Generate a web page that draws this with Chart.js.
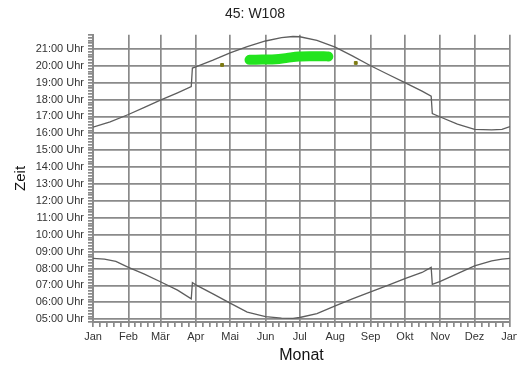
<!DOCTYPE html>
<html>
<head>
<meta charset="utf-8">
<script src="https://cdn.jsdelivr.net/npm/chart.js@4"></script>
<style>
  body { margin: 0; background: #fff; }
  #wrap { width: 517px; height: 365px; }
</style>
</head>
<body>
<div id="wrap"><canvas id="sunChart" width="517" height="365"></canvas></div>
<script>
// month labels and the day of year each month starts on
const monthNames = ['Jan', 'Feb', 'Mär', 'Apr', 'Mai', 'Jun', 'Jul', 'Aug', 'Sep', 'Okt', 'Nov', 'Dez', 'Jan'];
const monthStarts = [0, 31, 59, 90, 120, 151, 181, 212, 243, 273, 304, 334, 365];

// sunset (upper line)
const sunsetDays  = [0, 15, 31, 45, 59, 74, 86, 87, 90, 105, 120, 135, 151, 165, 175, 181, 196, 212, 227, 243, 258, 273, 288, 296, 297, 304, 319, 334, 349, 358, 365];
const sunsetTimes = ['16:22', '16:41', '17:07', '17:32', '17:58', '18:24', '18:46', '19:52', '19:56', '20:20', '20:46', '21:08', '21:28', '21:40', '21:44', '21:43', '21:30', '21:06', '20:35', '20:00', '19:30', '19:00', '18:30', '18:12', '17:10', '16:58', '16:33', '16:14', '16:12', '16:14', '16:24'];

// sunrise (lower line)
const sunriseDays  = [0, 10, 20, 31, 45, 59, 74, 86, 87, 90, 105, 120, 135, 151, 165, 175, 181, 196, 212, 227, 243, 258, 273, 288, 296, 297, 304, 319, 334, 349, 358, 365];
const sunriseTimes = ['08:36', '08:33', '08:25', '08:04', '07:40', '07:13', '06:43', '06:12', '07:10', '07:02', '06:30', '05:57', '05:25', '05:09', '05:04', '05:03', '05:06', '05:20', '05:47', '06:12', '06:37', '07:00', '07:24', '07:46', '08:04', '07:04', '07:14', '07:42', '08:09', '08:27', '08:33', '08:36'];

// green band
const bandDays  = [137, 148, 160, 170, 180, 192, 202, 206];
const bandTimes = ['20:21', '20:22', '20:23', '20:28', '20:33', '20:34', '20:34', '20:33'];

// single olive marks
const dotDays  = [113, 230];
const dotTimes = ['20:03', '20:10'];

const yMin = 290;   // 04:50
const yMax = 1310;  // 21:50

function toMin(s) {
    const p = s.split(':');
    return parseInt(p[0]) * 60 + parseInt(p[1]);
}
function pts(days, times) {
    return days.map((d, i) => ({ x: d, y: toMin(times[i]) }));
}

const font = 'Arial, "Liberation Sans", sans-serif';
const gridGrey = '#8a8a8a';

var ctx = document.getElementById('sunChart').getContext('2d');
var chart = new Chart(ctx, {
    type: 'line',
    data: {
        datasets: [{
            data: pts(bandDays, bandTimes),
            borderColor: '#22e41e',
            borderWidth: 10,
            borderCapStyle: 'round',
            borderJoinStyle: 'round',
            pointRadius: 0,
            tension: 0.3
        }, {
            data: pts(dotDays, dotTimes),
            showLine: false,
            pointStyle: 'rect',
            pointRadius: 2,
            pointBackgroundColor: '#7d7a12',
            pointBorderColor: '#7d7a12'
        }, {
            data: pts(sunsetDays, sunsetTimes),
            borderColor: '#5e5e5e',
            borderWidth: 1.3,
            pointRadius: 0,
            tension: 0
        }, {
            data: pts(sunriseDays, sunriseTimes),
            borderColor: '#5e5e5e',
            borderWidth: 1.3,
            pointRadius: 0,
            tension: 0
        }]
    },
    options: {
        responsive: false,
        animation: false,
        layout: { padding: { left: 0, right: 7, top: 0, bottom: 0 } },
        plugins: {
            legend: { display: false },
            tooltip: { enabled: false },
            title: {
                display: true,
                text: '45: W108',
                color: '#222',
                font: { family: font, size: 14, weight: 'normal' },
                padding: { top: 6, bottom: 12 }
            }
        },
        scales: {
            x: {
                type: 'linear',
                min: 0,
                max: 365,
                afterBuildTicks: function (scale) {
                    const t = [];
                    for (let m = 0; m < 12; m++) {
                        const a = monthStarts[m], b = monthStarts[m + 1];
                        t.push({ value: a, major: true });
                        for (let k = 1; k < 5; k++) t.push({ value: a + (b - a) * k / 5 });
                    }
                    t.push({ value: 365, major: true });
                    scale.ticks = t;
                },
                afterFit: function (scale) {
                    scale.height = 43;
                    scale.paddingLeft = 0;
                    scale.paddingRight = 0;
                },
                ticks: {
                    autoSkip: false,
                    maxRotation: 0,
                    padding: 3,
                    color: '#333',
                    font: { family: font, size: 11 },
                    callback: function (v) {
                        const i = monthStarts.indexOf(v);
                        return i >= 0 ? monthNames[i] : '';
                    }
                },
                grid: {
                    color: function (c) {
                        return (c.tick && monthStarts.indexOf(c.tick.value) >= 0) ? gridGrey : 'rgba(0,0,0,0)';
                    },
                    tickColor: gridGrey,
                    lineWidth: 1.7,
                    tickLength: 5
                },
                border: { color: gridGrey, width: 2 },
                title: {
                    display: true,
                    text: 'Monat',
                    color: '#111',
                    font: { family: font, size: 16 },
                    padding: { top: 0, bottom: 0 }
                }
            },
            y: {
                min: yMin,
                max: yMax,
                afterBuildTicks: function (scale) {
                    const t = [];
                    for (let v = yMin; v <= yMax; v += 10) t.push({ value: v });
                    scale.ticks = t;
                },
                afterFit: function (scale) { scale.width = 93; },
                ticks: {
                    autoSkip: false,
                    padding: 4,
                    color: '#333',
                    font: { family: font, size: 11 },
                    callback: function (v) {
                        if (v % 60 !== 0) return '';
                        const h = v / 60;
                        return (h < 10 ? '0' : '') + h + ':00 Uhr';
                    }
                },
                grid: {
                    color: function (c) {
                        return (c.tick && c.tick.value % 60 === 0) ? gridGrey : 'rgba(0,0,0,0)';
                    },
                    tickColor: gridGrey,
                    lineWidth: 1.7,
                    tickLength: 5
                },
                border: { color: gridGrey, width: 2 },
                title: {
                    display: true,
                    text: 'Zeit',
                    color: '#111',
                    font: { family: font, size: 15 },
                    padding: { top: 12, bottom: 0 }
                }
            }
        }
    }
});
</script>
</body>
</html>
